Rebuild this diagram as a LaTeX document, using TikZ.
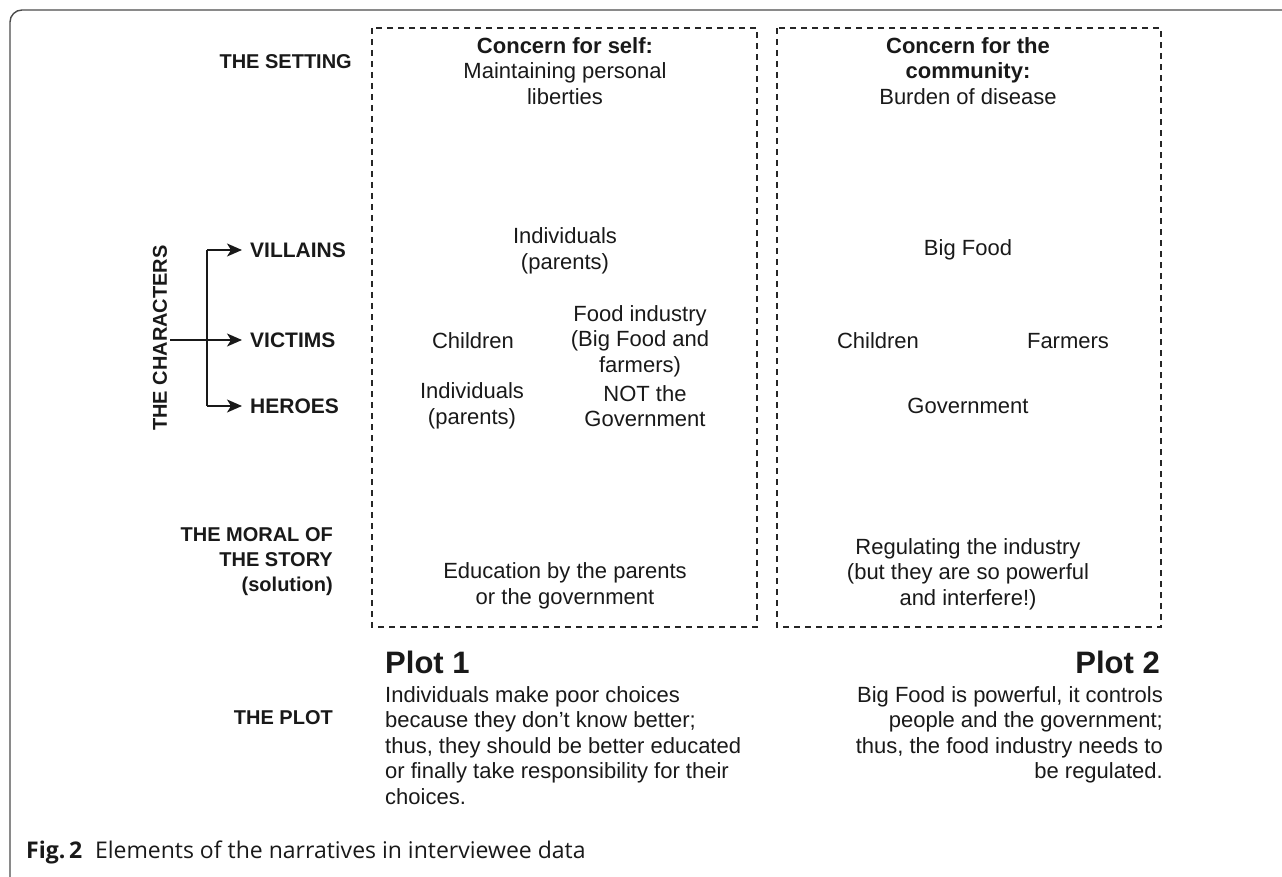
\documentclass[tikz,border=0pt]{standalone}
\usepackage{fontspec}
\setmainfont{Liberation Sans}
\newfontfamily\capfont{Open Sans}
\usetikzlibrary{arrows.meta}
\tikzset{
  x=1pt,y=-1pt,
  txt/.style={inner sep=0pt, align=center, font=\fontsize{22}{25.5}\selectfont, text=black!90},
  lbl/.style={inner sep=0pt, align=right, font=\bfseries\fontsize{20}{25}\selectfont, text=black!90},
  role/.style={inner sep=0pt, anchor=west, font=\bfseries\fontsize{21}{25}\selectfont, text=black!90},
  dbox/.style={draw=black!85, line width=1.4pt, dash pattern=on 6pt off 5pt},
  conn/.style={draw=black!90, line width=1.5pt},
  arr/.style={conn, -{Stealth[length=15pt,width=13pt,inset=4pt]}, shorten >=8pt},
  plot/.style={inner sep=0pt, font=\bfseries\fontsize{31}{34}\selectfont, text=black!90},
}
\begin{document}
\begin{tikzpicture}
\useasboundingbox (0,0) rectangle (1282,877);
\clip (0,0) rectangle (1282,877);
% outer frame
\draw[gray!60!black, line width=1.4pt, rounded corners=12pt] (10,10) rectangle (1310,895);
% dashed boxes
\draw[dbox] (372,28) rectangle (757,627);
\draw[dbox] (777,28) rectangle (1161,627);
% row labels
\node[lbl, anchor=east] (setting) at (352,62) {THE SETTING};
\node[lbl, anchor=east] (moral) at (333,562) {THE MORAL OF\\THE STORY\\(solution)};
\node[lbl, anchor=east] (theplot) at (333,718) {THE PLOT};
\node[lbl, rotate=90] (chars) at (160,338) {THE CHARACTERS};
% characters
\node[role] (villains) at (250,250) {VILLAINS};
\node[role] (victims) at (250,340) {VICTIMS};
\node[role] (heroes) at (250,406) {HEROES};
\coordinate (fork) at (207,340);
\coordinate (start) at (170,340);
\draw[conn] (fork |- villains) -- (fork |- heroes);
\draw[arr] (fork |- villains) -- (villains.west);
\draw[arr] (fork |- heroes) -- (heroes.west);
\draw[arr] (start) -- (victims.west);
% box 1
\node[txt] (self) at (565,71) {\textbf{Concern for self:}\\Maintaining personal\\liberties};
\node[txt] (vill1) at (565,251) {Individuals\\(parents)};
\node[txt] (child1) at (473,341) {Children};
\node[txt] (food1) at (640,341) {Food industry\\(Big Food and\\farmers)};
\node[txt] (hero1a) at (472,406) {Individuals\\(parents)};
\node[txt] (hero1b) at (645,406) {NOT the\\Government};
\node[txt] (sol1) at (565,586) {Education by the parents\\or the government};
% box 2
\node[txt] (comm) at (968,71) {\textbf{Concern for the}\\\textbf{community:}\\Burden of disease};
\node[txt] (vill2) at (968,250) {Big Food};
\node[txt] (child2) at (878,341) {Children};
\node[txt] (farm2) at (1068,341) {Farmers};
\node[txt] (hero2) at (968,406) {Government};
\node[txt] (sol2) at (968,574) {Regulating the industry\\(but they are so powerful\\and interfere!)};
% plots
\node[plot, anchor=west] (plot1) at (385,662) {Plot 1};
\node[plot, anchor=east] (plot2) at (1160,662) {Plot 2};
\node[txt, align=left, anchor=north west] (p1) at (385,686) {Individuals make poor choices\\because they don’t know better;\\thus, they should be better educated\\or finally take responsibility for their\\choices.};
\node[txt, align=right, anchor=north east] (p2) at (1163,686) {Big Food is powerful, it controls\\people and the government;\\thus, the food industry needs to\\be regulated.};
% caption
\node[inner sep=0pt, anchor=west, font=\capfont\fontsize{23}{26}\selectfont, text=black!90] (cap) at (26,852) {\textbf{Fig.\,2}\hspace{0.55em}Elements of the narratives in interviewee data};
\end{tikzpicture}
\end{document}
